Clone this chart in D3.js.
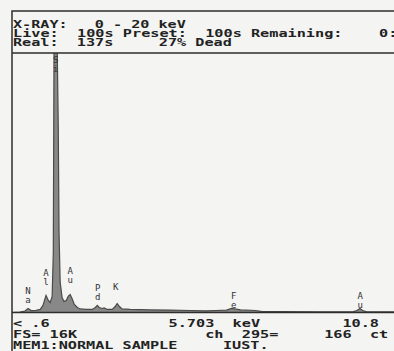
<!DOCTYPE html>
<html>
<head>
<meta charset="utf-8">
<script src="https://cdn.jsdelivr.net/npm/d3@7"></script>
<style>
  body { margin: 0; background: #f4f4f2; overflow: hidden; }
  svg { display: block; }
  .hud { font-family: "DejaVu Sans Mono", monospace; font-size: 10px; font-weight: bold; fill: #222; white-space: pre; }
  .el { font-family: "DejaVu Sans Mono", monospace; font-size: 9px; fill: #333; }
</style>
</head>
<body>
<svg></svg>
<script>
// Texto do cabeçalho e do rodapé (como na tela do analisador)
const headerLines = [
    "X-RAY:   0 - 20 keV",
    "Live:  100s Preset:  100s Remaining:    0:",
    "Real:  137s     27% Dead"
];
const footerLines = [
    "< .6             5.703  keV         10.8",
    "FS= 16K              ch  295=     166  ct",
    "MEM1:NORMAL SAMPLE     IUST."
];

// Espectro: energia (keV) e contagens
const spectrumKeV = [0.60, 0.81, 0.94, 1.02, 1.10, 1.23, 1.34, 1.41, 1.49, 1.55, 1.60, 1.65, 1.68, 1.70, 1.78, 1.81,
    1.83, 1.86, 1.91, 1.96, 2.02, 2.07, 2.12, 2.17, 2.23, 2.31, 2.38, 2.54, 2.70, 2.78, 2.83, 2.88, 2.96, 3.01, 3.09,
    3.22, 3.30, 3.35, 3.41, 3.48, 3.69, 4.22, 4.74, 5.27, 5.66, 5.92, 6.21, 6.34, 6.42, 6.58, 6.97, 7.15, 7.62, 8.67,
    9.51, 9.62, 9.70, 9.77, 9.88, 10.80];
const spectrumCounts = [0, 30, 90, 250, 120, 130, 190, 440, 1060, 750, 620, 1000, 3700, 17000, 17000, 11500,
    5000, 1870, 930, 690, 750, 1000, 1120, 870, 500, 310, 220, 190, 190, 310, 440, 310, 250, 280, 190,
    190, 370, 560, 370, 220, 190, 160, 150, 125, 95, 125, 150, 250, 220, 160, 125, 60, 50, 45,
    45, 125, 250, 125, 45, 30];

// Marcadores de elementos (símbolo em duas linhas), energia e nível do marcador
const elementSymbols = ["Na", "Al", "Si", "Au", "Pd", "K", "Fe", "Au"];
const elementKeV = [1.02, 1.49, 1.74, 2.12, 2.84, 3.31, 6.40, 9.71];
const elementLevels = [560, 1680, 17000, 1810, 750, 810, 310, 310];

const fullScale = 16000; // FS= 16K
const energyRange = [0.6, 10.8];

const width = 394;
const height = 351;

// Geometria da moldura
const boxLeft = 12, boxRight = 402, boxTop = 11;
const sepY = 53, baseY = 312.5;

const svg = d3.select("svg")
    .attr("width", width)
    .attr("height", height);

const x = d3.scaleLinear().domain(energyRange).range([boxLeft, boxRight]);
const y = d3.scaleLinear().domain([0, fullScale]).range([baseY, sepY + 2]);

const spectrum = spectrumKeV.map((e, i) => ({ e: e, c: spectrumCounts[i] }));

// Recorte da área do gráfico
svg.append("clipPath").attr("id", "plot")
    .append("rect")
    .attr("x", boxLeft).attr("y", sepY)
    .attr("width", boxRight - boxLeft).attr("height", baseY - sepY);

const area = d3.area()
    .x(d => x(d.e))
    .y0(baseY)
    .y1(d => y(d.c));

const line = d3.line()
    .x(d => x(d.e))
    .y(d => y(d.c));

const plot = svg.append("g").attr("clip-path", "url(#plot)");

plot.append("path")
    .datum(spectrum)
    .attr("d", area)
    .attr("fill", "#888");

plot.append("path")
    .datum(spectrum)
    .attr("d", line)
    .attr("fill", "none")
    .attr("stroke", "#4a4a4a")
    .attr("stroke-width", 1.2);

// Rótulos dos elementos
const labelTop = sepY + 19;
const marks = svg.append("g");
elementSymbols.forEach((sym, i) => {
    const lx = x(elementKeV[i]);
    const ly = Math.max(y(elementLevels[i]), labelTop);
    marks.append("text").attr("class", "el")
        .attr("x", lx).attr("y", ly - 9)
        .attr("text-anchor", "middle")
        .text(sym[0]);
    if (sym.length > 1) {
        marks.append("text").attr("class", "el")
            .attr("x", lx).attr("y", ly)
            .attr("text-anchor", "middle")
            .text(sym[1]);
    }
});

// Moldura
const frame = svg.append("g")
    .attr("stroke", "#2e2e2e")
    .attr("stroke-width", 1.5)
    .attr("fill", "none");

frame.append("path")
    .attr("d", `M${boxRight + 10},${boxTop}H${boxLeft}V${height + 5}`);
frame.append("line")
    .attr("x1", boxLeft).attr("x2", boxRight + 10)
    .attr("y1", sepY).attr("y2", sepY);
frame.append("line")
    .attr("x1", boxLeft).attr("x2", boxRight + 10)
    .attr("y1", baseY).attr("y2", baseY);

// Texto em grade monoespaçada
const pitch = 9.2;
function textRows(lines, baselines) {
    svg.append("g").selectAll("text")
        .data(lines)
        .enter().append("text")
        .attr("class", "hud")
        .attr("xml:space", "preserve")
        .attr("x", boxLeft + 1)
        .attr("y", (d, i) => baselines[i])
        .attr("textLength", d => d.length * pitch - 2)
        .attr("lengthAdjust", "spacingAndGlyphs")
        .text(d => d);
}

textRows(headerLines, [27.5, 36.7, 45.8]);
textRows(footerLines, [326.5, 337.8, 349]);
</script>
</body>
</html>
